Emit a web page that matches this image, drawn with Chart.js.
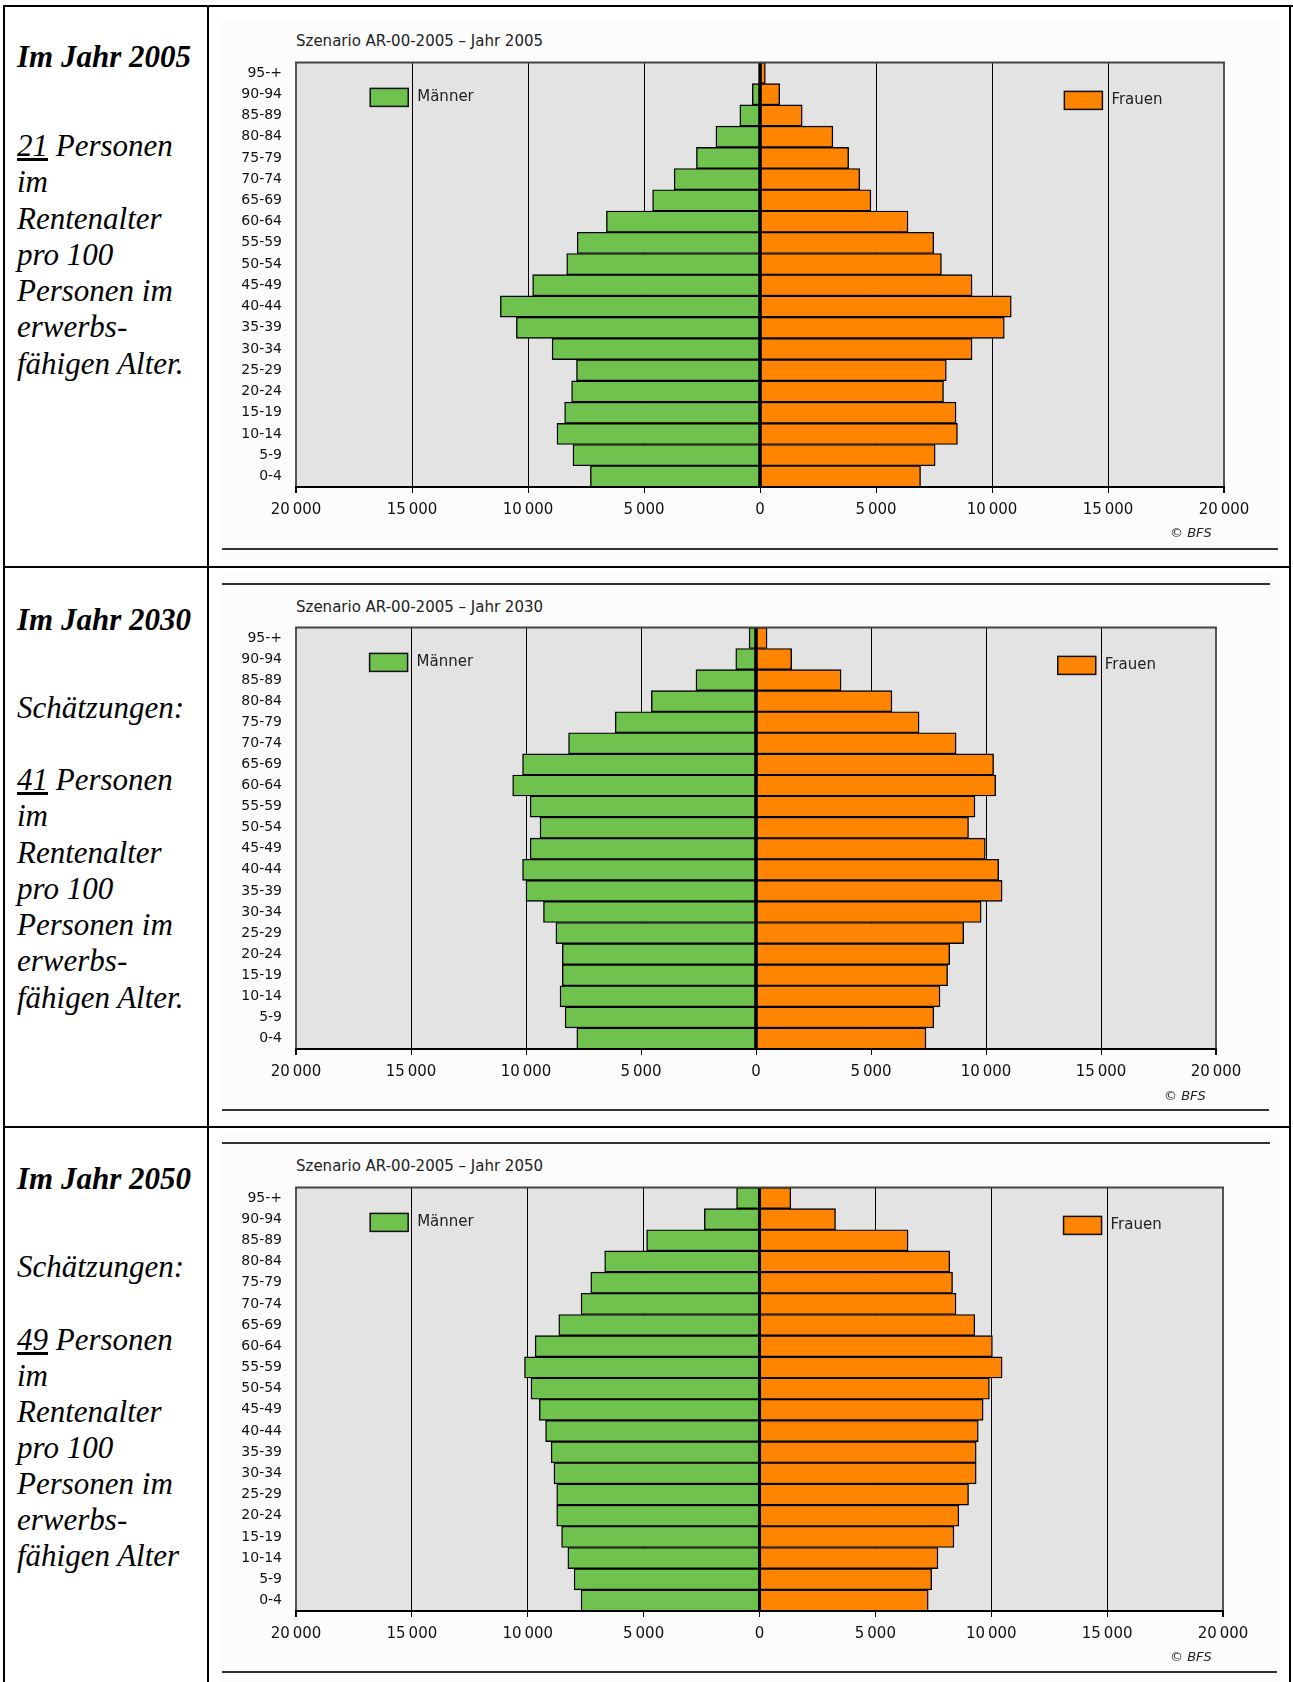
<!DOCTYPE html>
<html>
<head>
<meta charset="utf-8">
<script src="https://cdn.jsdelivr.net/npm/chart.js@4.4.0/dist/chart.umd.min.js"></script>
<style>
  body { margin: 0; width: 1293px; height: 1682px; position: relative; background: #fff; overflow: hidden; }
  .ln { position: absolute; background: #000; }
  .hl { position: absolute; height: 2px; background: #333; }
  .img { position: absolute; background: #fcfcfc; }
  .side { position: absolute; left: 17px; font-family: "Liberation Serif", serif; font-style: italic;
          font-size: 31px; line-height: 36.3px; color: #000; white-space: nowrap; }
  .side b { font-weight: bold; }
  .ttl { position: absolute; left: 296px; font-family: "DejaVu Sans", sans-serif; font-size: 15px;
         line-height: 18px; color: #222; white-space: nowrap; }
  .bfs { position: absolute; font-family: "DejaVu Sans", sans-serif; font-size: 13px; line-height: 16px; color: #222; }
  .bfs i { font-style: italic; }
  .box { position: absolute; left: 222px; width: 1058px; }
</style>
</head>
<body>

<!-- table frame -->
<div class="ln" style="left:3px;top:5px;width:1290px;height:2px"></div>
<div class="ln" style="left:3px;top:5px;width:2px;height:1677px"></div>
<div class="ln" style="left:1289px;top:5px;width:2px;height:1677px"></div>
<div class="ln" style="left:207px;top:5px;width:2px;height:1677px"></div>
<div class="ln" style="left:3px;top:566px;width:1288px;height:2px"></div>
<div class="ln" style="left:3px;top:1126px;width:1288px;height:2px"></div>

<!-- embedded picture backgrounds -->
<div class="img" style="left:222px;top:20px;width:1057px;height:540px"></div>
<div class="img" style="left:222px;top:574px;width:1057px;height:546px"></div>
<div class="img" style="left:222px;top:1134px;width:1057px;height:548px"></div>

<div class="hl" style="left:222px;top:548px;width:1056px"></div>
<div class="hl" style="left:222px;top:583px;width:1048px"></div>
<div class="hl" style="left:222px;top:1109px;width:1047px"></div>
<div class="hl" style="left:222px;top:1142px;width:1048px"></div>
<div class="hl" style="left:222px;top:1671px;width:1055px"></div>

<!-- left column -->
<div class="side" style="top:39px"><b>Im Jahr 2005</b></div>
<div class="side" style="top:128px"><u>21</u> Personen<br>im<br>Rentenalter<br>pro 100<br>Personen im<br>erwerbs-<br>fähigen Alter.</div>

<div class="side" style="top:602px"><b>Im Jahr 2030</b></div>
<div class="side" style="top:690px">Schätzungen:</div>
<div class="side" style="top:762px"><u>41</u> Personen<br>im<br>Rentenalter<br>pro 100<br>Personen im<br>erwerbs-<br>fähigen Alter.</div>

<div class="side" style="top:1161px"><b>Im Jahr 2050</b></div>
<div class="side" style="top:1249px">Schätzungen:</div>
<div class="side" style="top:1322px;line-height:36px"><u>49</u> Personen<br>im<br>Rentenalter<br>pro 100<br>Personen im<br>erwerbs-<br>fähigen Alter</div>

<!-- charts -->
<div class="ttl" style="top:32px">Szenario AR-00-2005 – Jahr 2005</div>
<div class="box" style="top:48px;height:479px"><canvas id="c2005" width="1058" height="479"></canvas></div>
<div class="bfs" style="left:1170px;top:525px">© <i>BFS</i></div>

<div class="ttl" style="top:598px">Szenario AR-00-2005 – Jahr 2030</div>
<div class="box" style="top:613px;height:476px"><canvas id="c2030" width="1058" height="476"></canvas></div>
<div class="bfs" style="left:1164px;top:1088px">© <i>BFS</i></div>

<div class="ttl" style="top:1157px">Szenario AR-00-2005 – Jahr 2050</div>
<div class="box" style="top:1173px;height:478px"><canvas id="c2050" width="1058" height="478"></canvas></div>
<div class="bfs" style="left:1170px;top:1649px">© <i>BFS</i></div>

<script>
// age groups, top to bottom
const ageGroups = ['95-+', '90-94', '85-89', '80-84', '75-79', '70-74', '65-69', '60-64', '55-59', '50-54',
                   '45-49', '40-44', '35-39', '30-34', '25-29', '20-24', '15-19', '10-14', '5-9', '0-4'];

const men2005   = [60, 330, 870, 1900, 2740, 3700, 4630, 6620, 7880, 8330, 9800, 11190, 10500, 8960, 7910, 8120, 8420, 8750, 8060, 7310];
const women2005 = [230, 850, 1820, 3140, 3820, 4300, 4780, 6380, 7490, 7820, 9140, 10830, 10530, 9140, 8030, 7910, 8450, 8510, 7550, 6920];

const men2030   = [300, 880, 2610, 4550, 6120, 8150, 10150, 10580, 9820, 9390, 9820, 10150, 10000, 9240, 8700, 8420, 8420, 8520, 8300, 7790];
const women2030 = [480, 1550, 3700, 5910, 7090, 8700, 10330, 10420, 9520, 9240, 9970, 10550, 10700, 9790, 9030, 8420, 8330, 8000, 7730, 7390];

const men2050   = [990, 2380, 4870, 6680, 7280, 7700, 8660, 9680, 10140, 9860, 9500, 9230, 8990, 8870, 8750, 8750, 8540, 8270, 8000, 7700];
const women2050 = [1350, 3280, 6410, 8210, 8330, 8480, 9290, 10050, 10470, 9920, 9650, 9440, 9350, 9350, 9020, 8600, 8390, 7700, 7430, 7280];

const xMin = -20000, xMax = 20000, xStep = 5000;
const legendLabels = ['Männer', 'Frauen'];

const GREEN = '#70c24f';
const ORANGE = '#ff8500';

function fmt(v) {
    return String(Math.abs(v)).replace(/\B(?=(\d{3})+(?!\d))/g, '\u2009');
}

const pyramidFrame = {
    id: 'pyramidFrame',
    beforeDraw(chart) {
        const a = chart.chartArea, c = chart.ctx;
        c.save();
        c.fillStyle = '#e3e3e3';
        c.fillRect(a.left, a.top, a.right - a.left, a.bottom - a.top);
        c.restore();
    },
    afterDatasetsDraw(chart) {
        const a = chart.chartArea, c = chart.ctx;
        const x0 = chart.scales.x.getPixelForValue(0);
        c.save();
        // zero line
        c.strokeStyle = '#000';
        c.lineWidth = 3;
        c.beginPath();
        c.moveTo(x0, a.top);
        c.lineTo(x0, a.bottom);
        c.stroke();
        // top border
        c.strokeStyle = '#444';
        c.lineWidth = 2;
        c.beginPath();
        c.moveTo(a.left - 1, a.top);
        c.lineTo(a.right + 1, a.top);
        c.stroke();

        // legend boxes
        const w = a.right - a.left;
        const items = [
            { x: a.left + 0.08 * w, y: a.top + 26, color: GREEN, label: legendLabels[0] },
            { x: a.left + 0.828 * w, y: a.top + 29, color: ORANGE, label: legendLabels[1] }
        ];
        c.font = '15px "DejaVu Sans"';
        c.textBaseline = 'middle';
        items.forEach(it => {
            c.fillStyle = it.color;
            c.fillRect(it.x, it.y, 38, 18);
            c.strokeStyle = '#111';
            c.lineWidth = 1.5;
            c.strokeRect(it.x, it.y, 38, 18);
            c.fillStyle = '#222';
            c.fillText(it.label, it.x + 47, it.y + 9);
        });
        c.restore();
    }
};

function makePyramid(id, men, women, padRight) {
    return new Chart(document.getElementById(id), {
        type: 'bar',
        data: {
            labels: ageGroups,
            datasets: [
                {
                    label: legendLabels[0],
                    data: men.map(v => -v),
                    backgroundColor: GREEN,
                    borderColor: '#000',
                    borderWidth: 1.4,
                    borderSkipped: false,
                    categoryPercentage: 1,
                    barPercentage: 1
                },
                {
                    label: legendLabels[1],
                    data: women,
                    backgroundColor: ORANGE,
                    borderColor: '#000',
                    borderWidth: 1.4,
                    borderSkipped: false,
                    categoryPercentage: 1,
                    barPercentage: 1
                }
            ]
        },
        options: {
            indexAxis: 'y',
            responsive: false,
            animation: false,
            layout: { padding: { top: 0, right: padRight, left: 0, bottom: 0 } },
            plugins: {
                legend: { display: false },
                tooltip: { enabled: false },
                title: { display: false }
            },
            scales: {
                x: {
                    stacked: true,
                    min: xMin,
                    max: xMax,
                    afterFit(scale) { scale.height = 40; },
                    ticks: {
                        stepSize: xStep,
                        callback: v => fmt(v),
                        color: '#111',
                        font: { family: 'DejaVu Sans', size: 15 },
                        padding: 8,
                        maxRotation: 0
                    },
                    grid: {
                        color: ctx => (Math.abs(ctx.tick.value) === 20000 ? '#555' : '#000'),
                        lineWidth: ctx => (Math.abs(ctx.tick.value) === 20000 ? 2 : 1),
                        tickColor: '#000',
                        tickLength: 6
                    },
                    border: { display: true, color: '#000', width: 2 }
                },
                y: {
                    stacked: true,
                    afterFit(scale) { scale.width = 74; },
                    ticks: {
                        color: '#111',
                        font: { family: 'DejaVu Sans', size: 14 },
                        padding: 6,
                        autoSkip: false
                    },
                    grid: { display: false },
                    border: { display: false }
                }
            }
        },
        plugins: [pyramidFrame]
    });
}

makePyramid('c2005', men2005, women2005, 56);
makePyramid('c2030', men2030, women2030, 64);
makePyramid('c2050', men2050, women2050, 57);
</script>
</body>
</html>
